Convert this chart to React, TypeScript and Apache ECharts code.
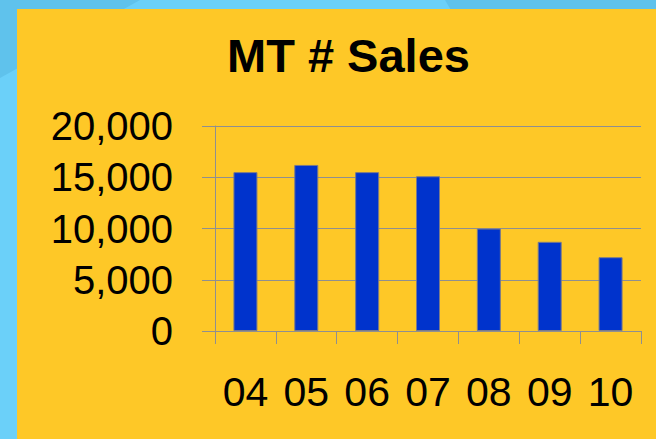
import React, { useEffect, useRef } from "react";
import * as echarts from "echarts";

const categories = ["04", "05", "06", "07", "08", "09", "10"];
const salesValues = [15500, 16200, 15500, 15100, 10000, 8700, 7200];
const yTicks = [0, 5000, 10000, 15000, 20000];

const FONT = "'Liberation Sans', Arial, sans-serif";

export default function App() {
  const ref = useRef<HTMLDivElement>(null);
  useEffect(() => {
    if (!ref.current) return;
    const chart = echarts.init(ref.current, undefined, { renderer: "svg" });
    chart.setOption({
      animation: false,
      backgroundColor: "#6BD0F9",
      graphic: [
        {
          type: "polygon",
          silent: true,
          z: -10,
          shape: { points: [[0, 0], [140, 0], [0, 78]] },
          style: { fill: "#5FC2EC" },
        },
        {
          type: "polygon",
          silent: true,
          z: -10,
          shape: { points: [[445, 0], [656, 0], [656, 12], [452, 12]] },
          style: { fill: "#5FC2EC" },
        },
        {
          type: "rect",
          silent: true,
          z: -5,
          shape: { x: 17, y: 9, width: 660, height: 440 },
          style: { fill: "#FEC827" },
        },
      ],
      title: {
        text: "MT # Sales",
        left: 222,
        top: 27,
        textStyle: {
          fontFamily: FONT,
          fontSize: 47,
          fontWeight: "bold",
          color: "#000",
        },
      },
      grid: { left: 215, right: 15, top: 126, bottom: 108 },
      xAxis: {
        type: "category",
        data: categories,
        boundaryGap: true,
        axisLine: { show: true, lineStyle: { color: "#8F8F8F", width: 1 } },
        axisTick: { show: true, length: 13, lineStyle: { color: "#8F8F8F" } },
        axisLabel: {
          interval: 0,
          margin: 40,
          fontFamily: FONT,
          fontSize: 41,
          color: "#000",
        },
      },
      yAxis: {
        type: "value",
        min: yTicks[0],
        max: yTicks[yTicks.length - 1],
        interval: yTicks[1] - yTicks[0],
        axisLine: { show: true, lineStyle: { color: "#8F8F8F", width: 1 } },
        axisTick: { show: true, length: 13, lineStyle: { color: "#8F8F8F" } },
        splitLine: { show: true, lineStyle: { color: "#8F8F8F", width: 1 } },
        axisLabel: {
          margin: 42,
          fontFamily: FONT,
          fontSize: 40,
          color: "#000",
          formatter: (v: number) => v.toLocaleString("en-US"),
        },
      },
      series: [
        {
          type: "bar",
          data: salesValues,
          barWidth: 24,
          itemStyle: { color: "#0033CC", borderColor: "#7A7A8A", borderWidth: 1 },
        },
      ],
    });
    return () => chart.dispose();
  }, []);
  return (
    <div
      ref={ref}
      style={{ position: "fixed", left: 0, top: 0, width: 656, height: 439 }}
    />
  );
}
